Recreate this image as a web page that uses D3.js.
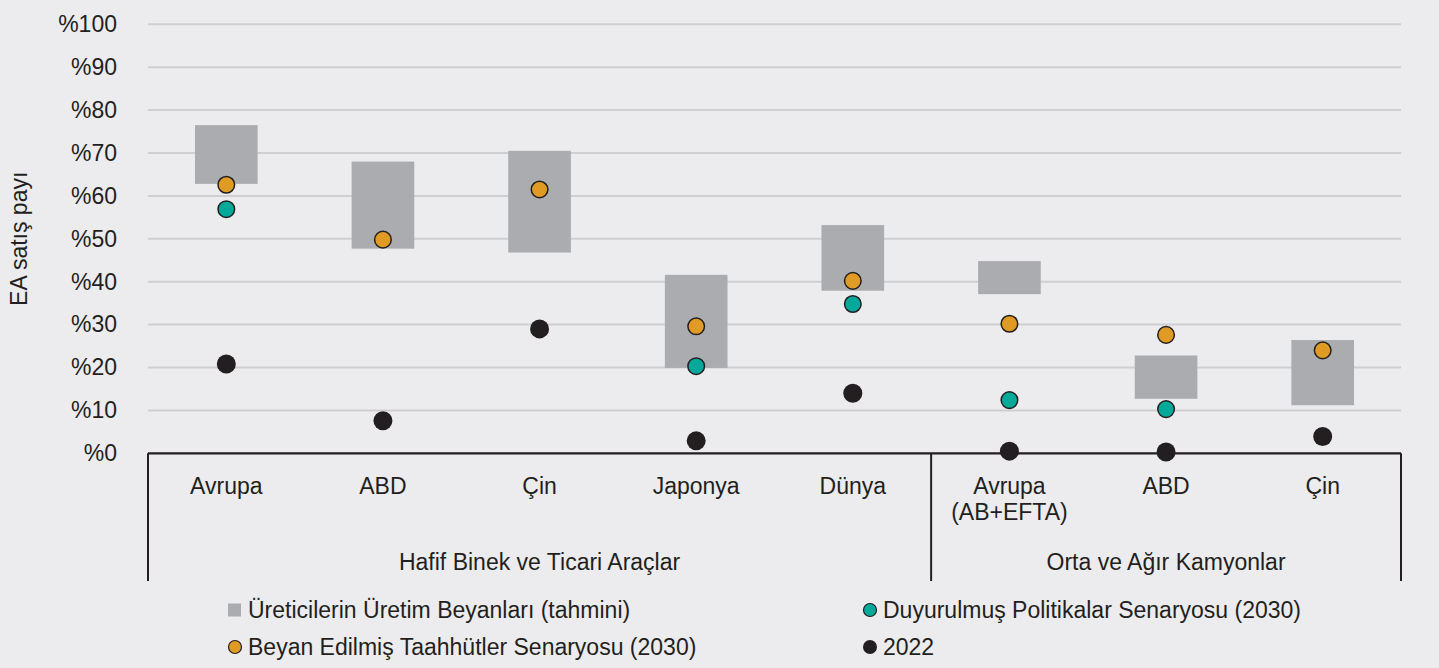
<!DOCTYPE html>
<html>
<head>
<meta charset="utf-8">
<script src="https://cdn.jsdelivr.net/npm/d3@7"></script>
<style>
  html, body { margin: 0; padding: 0; background: #ECECEE; }
  svg { display: block; }
  text { font-family: "Liberation Sans", Arial, sans-serif; fill: #231F20; }
</style>
</head>
<body>
<svg id="chart" width="1439" height="668"></svg>
<script>
// ---- data ----
const categoryLabels = ["Avrupa", "ABD", "Çin", "Japonya", "Dünya", "Avrupa|(AB+EFTA)", "ABD", "Çin"];
const barLow  = [62.8, 47.7, 46.8, 19.9, 37.9, 37.1, 12.7, 11.2];
const barHigh = [76.5, 68.0, 70.5, 41.6, 53.2, 44.8, 22.8, 26.4];
const pledges = [62.6, 49.8, 61.5, 29.6, 40.2, 30.2, 27.6, 24.0];   // Beyan Edilmiş Taahhütler
const policies = [56.9, null, null, 20.3, 34.8, 12.4, 10.3, null];  // Duyurulmuş Politikalar
const actual2022 = [20.8, 7.6, 29.0, 2.9, 14.0, 0.5, 0.3, 3.9];
const groupLabels = ["Hafif Binek ve Ticari Araçlar", "Orta ve Ağır Kamyonlar"];
const groupSizes = [5, 3];
const yTicks = [0, 10, 20, 30, 40, 50, 60, 70, 80, 90, 100];
const legendLabels = [
  "Üreticilerin Üretim Beyanları (tahmini)",
  "Duyurulmuş Politikalar Senaryosu (2030)",
  "Beyan Edilmiş Taahhütler Senaryosu (2030)",
  "2022"
];
const yAxisTitle = "EA satış payı";

(function () {
// ---- layout ----
const svg = d3.select("#chart");
const FS = 23;
const FF = '"Liberation Sans", Arial, sans-serif';
const pLeft = 148, pRight = 1401, pTop = 24.3, pBottom = 453.3, lowerEnd = 581;
const idx = categoryLabels.map((d, i) => i);
const x = d3.scaleBand().domain(idx).range([pLeft, pRight]).paddingInner(0).paddingOuter(0);
const y = d3.scaleLinear().domain([0, 100]).range([pBottom, pTop]);

const C = { bar: "#ABACAF", orange: "#E09B25", teal: "#05A99A", black: "#231F20", grid: "#CFCFD2" };

// y axis ticks
const yAxis = d3.axisLeft(y).tickValues(yTicks).tickFormat(d => "%" + d).tickSize(0).tickPadding(31);
const gy = svg.append("g").attr("transform", `translate(${pLeft},0)`).call(yAxis);
gy.select(".domain").remove();
gy.attr("font-family", null).attr("font-size", null);
gy.selectAll("text").attr("font-size", FS).style("font-family", FF).attr("fill", C.black);
// gridlines
svg.append("g").selectAll("line").data(yTicks.filter(d => d > 0)).join("line")
  .attr("x1", pLeft).attr("x2", pRight)
  .attr("y1", d => y(d)).attr("y2", d => y(d))
  .attr("stroke", C.grid).attr("stroke-width", 2);

// y axis title
svg.append("text")
  .attr("transform", `translate(27,${(pTop + pBottom) / 2}) rotate(-90)`)
  .attr("text-anchor", "middle").attr("font-size", FS).text(yAxisTitle);

// bars
const bw = x.bandwidth() * 0.4;
svg.append("g").selectAll("rect").data(idx).join("rect")
  .attr("x", i => x(i) + (x.bandwidth() - bw) / 2)
  .attr("width", bw)
  .attr("y", i => y(barHigh[i]))
  .attr("height", i => y(barLow[i]) - y(barHigh[i]))
  .attr("fill", C.bar);

// axis line and separators
svg.append("line").attr("x1", pLeft).attr("x2", pRight).attr("y1", pBottom).attr("y2", pBottom)
  .attr("stroke", C.black).attr("stroke-width", 2.2);
let acc = 0;
const sepIdx = [0];
groupSizes.forEach(s => { acc += s; sepIdx.push(acc); });
svg.append("g").selectAll("line").data(sepIdx).join("line")
  .attr("x1", k => k < idx.length ? x(k) : pRight).attr("x2", k => k < idx.length ? x(k) : pRight)
  .attr("y1", pBottom).attr("y2", lowerEnd)
  .attr("stroke", C.black).attr("stroke-width", 2);

// dots
const cx = i => x(i) + x.bandwidth() / 2;
svg.append("g").selectAll("circle").data(idx).join("circle")
  .attr("cx", cx).attr("cy", i => y(actual2022[i])).attr("r", 9.5).attr("fill", C.black);
svg.append("g").selectAll("circle").data(idx.filter(i => policies[i] != null)).join("circle")
  .attr("cx", cx).attr("cy", i => y(policies[i])).attr("r", 8.3)
  .attr("fill", C.teal).attr("stroke", C.black).attr("stroke-width", 1.5);
svg.append("g").selectAll("circle").data(idx).join("circle")
  .attr("cx", cx).attr("cy", i => y(pledges[i])).attr("r", 8.3)
  .attr("fill", C.orange).attr("stroke", C.black).attr("stroke-width", 1.5);

// category labels
const catG = svg.append("g");
idx.forEach(i => {
  const lines = categoryLabels[i].split("|");
  const t = catG.append("text").attr("x", cx(i)).attr("y", 494).attr("text-anchor", "middle").attr("font-size", FS);
  lines.forEach((l, j) => t.append("tspan").attr("x", cx(i)).attr("dy", j === 0 ? 0 : 26).text(l));
});

// group labels
let start = 0;
groupLabels.forEach((g, k) => {
  const s = start, e = start + groupSizes[k];
  const x0 = x(s), x1 = e < idx.length ? x(e) : pRight;
  svg.append("text").attr("x", (x0 + x1) / 2).attr("y", 570).attr("text-anchor", "middle")
    .attr("font-size", FS).text(g);
  start = e;
});

// legend
const lg = svg.append("g");
const legPos = [[235, 610], [870, 610], [235, 647], [870, 647]];
lg.append("rect").attr("x", legPos[0][0] - 7).attr("y", legPos[0][1] - 6.5).attr("width", 13).attr("height", 13).attr("fill", C.bar);
lg.append("circle").attr("cx", legPos[1][0]).attr("cy", legPos[1][1]).attr("r", 6.5).attr("fill", C.teal).attr("stroke", C.black).attr("stroke-width", 1.2);
lg.append("circle").attr("cx", legPos[2][0]).attr("cy", legPos[2][1]).attr("r", 6.5).attr("fill", C.orange).attr("stroke", C.black).attr("stroke-width", 1.2);
lg.append("circle").attr("cx", legPos[3][0]).attr("cy", legPos[3][1]).attr("r", 7).attr("fill", C.black);
legendLabels.forEach((l, k) => {
  lg.append("text").attr("x", legPos[k][0] + 13).attr("y", legPos[k][1]).attr("dy", "0.35em")
    .attr("font-size", FS).text(l);
});
})();
</script>
</body>
</html>
